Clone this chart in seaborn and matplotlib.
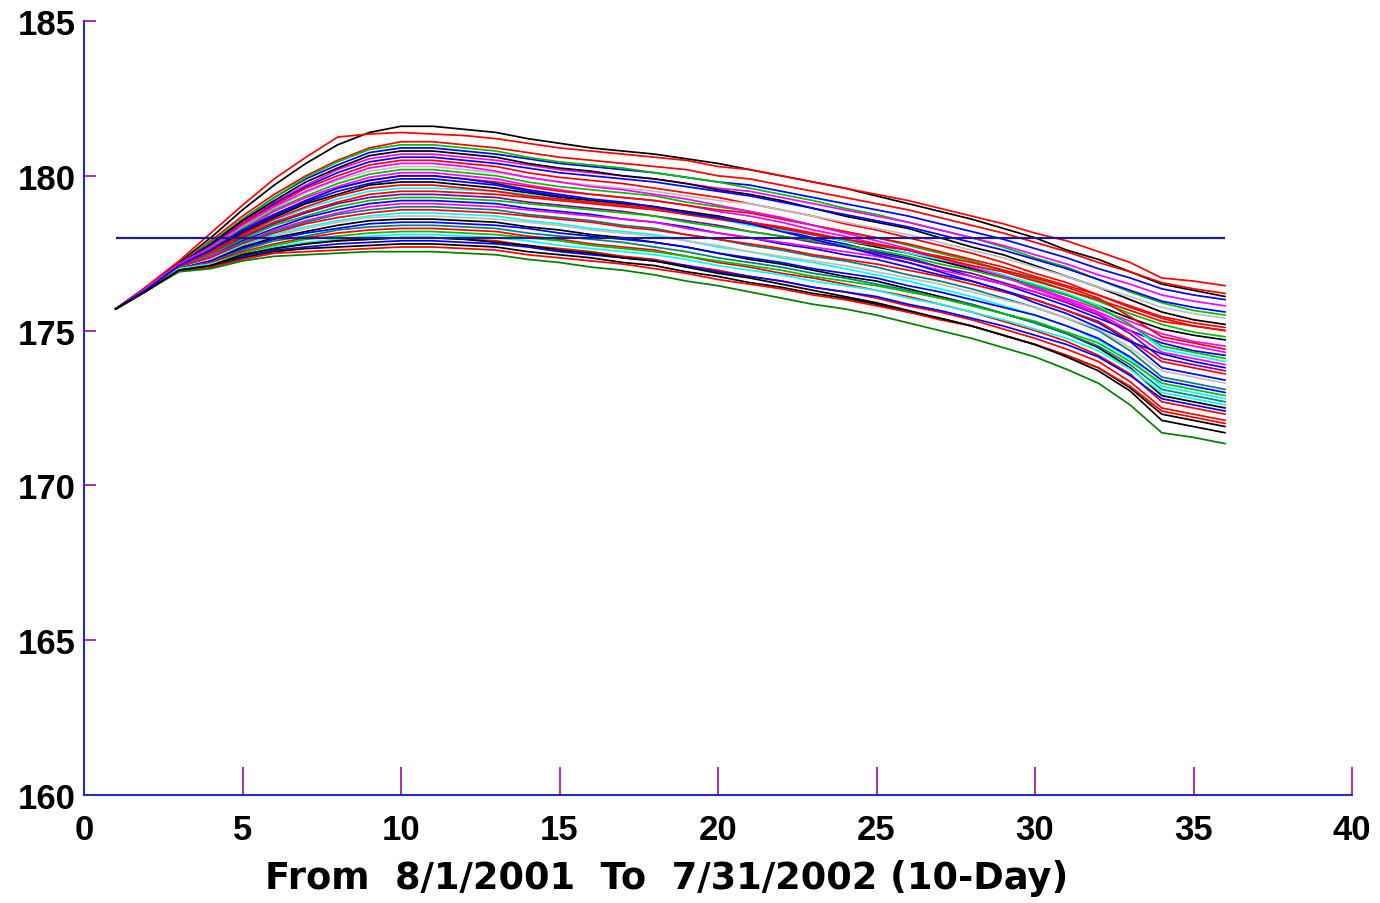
import numpy as np
import pandas as pd
import matplotlib
matplotlib.use("Agg")
import matplotlib.pyplot as plt
import seaborn as sns

# ---------------- data ----------------
periods = list(range(1, 37))          # 10-day periods, 8/1/2001 .. 7/31/2002
reference_level = 178
x_ticks = [0, 5, 10, 15, 20, 25, 30, 35, 40]
y_ticks = [160, 165, 170, 175, 180, 185]
x_label = "From  8/1/2001  To  7/31/2002 (10-Day)"

s01 = [175.7,176.4,177.2,178.0,178.9,179.7,180.4,181.0,181.4,181.6,181.6,181.5,181.4,181.2,181.05,180.9,180.8,180.7,180.55,180.4,180.2,180.0,179.8,179.6,179.35,179.1,178.85,178.6,178.3,178.0,177.6,177.3,176.9,176.5,176.3,176.1]
s02 = [175.7,176.45,177.25,178.15,179.05,179.9,180.6,181.25,181.35,181.4,181.35,181.3,181.2,181.05,180.9,180.8,180.7,180.6,180.5,180.3,180.2,180.0,179.8,179.6,179.4,179.2,178.95,178.7,178.45,178.15,177.9,177.55,177.2,176.7,176.6,176.45]
s03 = [175.7,176.4,177.15,177.9,178.7,179.4,180.0,180.5,180.9,181.1,181.1,181.0,180.9,180.75,180.6,180.5,180.4,180.3,180.2,180.0,179.9,179.7,179.5,179.3,179.1,178.9,178.65,178.4,178.15,177.85,177.55,177.2,176.9,176.55,176.35,176.2]
s04 = [175.7,176.4,177.15,177.8,178.6,179.3,179.9,180.35,180.75,180.9,180.9,180.8,180.7,180.55,180.4,180.3,180.2,180.1,179.95,179.8,179.7,179.5,179.3,179.1,178.9,178.7,178.45,178.2,177.95,177.65,177.35,177.0,176.7,176.35,176.15,176.0]
s05 = [175.7,176.4,177.15,177.85,178.6,179.3,179.95,180.45,180.85,181.0,181.0,180.9,180.8,180.6,180.45,180.35,180.25,180.1,179.95,179.8,179.6,179.4,179.2,178.95,178.75,178.5,178.25,178.0,177.7,177.35,177.05,176.65,176.25,175.9,175.65,175.5]
s06 = [175.7,176.4,177.15,177.75,178.5,179.15,179.7,180.2,180.55,180.7,180.7,180.6,180.5,180.35,180.2,180.1,180.0,179.9,179.75,179.6,179.5,179.3,179.1,178.9,178.7,178.5,178.25,178.0,177.75,177.45,177.15,176.8,176.5,176.15,175.95,175.8]
s07 = [175.7,176.4,177.15,177.8,178.55,179.2,179.8,180.25,180.65,180.8,180.8,180.7,180.6,180.4,180.25,180.15,180.0,179.9,179.75,179.55,179.4,179.2,178.95,178.7,178.5,178.3,178.0,177.7,177.45,177.1,176.75,176.4,176.0,175.6,175.35,175.2]
s08 = [175.7,176.4,177.15,177.75,178.45,179.1,179.65,180.1,180.45,180.6,180.6,180.5,180.4,180.25,180.1,180.0,179.9,179.8,179.65,179.5,179.35,179.15,178.95,178.75,178.55,178.35,178.1,177.85,177.6,177.3,177.0,176.65,176.3,175.95,175.75,175.6]
s09 = [175.7,176.4,177.15,177.7,178.45,179.05,179.6,180.0,180.35,180.5,180.5,180.4,180.3,180.1,179.95,179.85,179.75,179.6,179.45,179.3,179.1,178.9,178.7,178.45,178.25,178.0,177.75,177.5,177.2,176.85,176.55,176.15,175.75,175.4,175.15,175.0]
s10 = [175.7,176.35,177.1,177.65,178.35,178.95,179.45,179.85,180.15,180.3,180.3,180.2,180.1,179.95,179.8,179.7,179.6,179.5,179.35,179.2,179.1,178.9,178.7,178.5,178.3,178.1,177.85,177.6,177.35,177.05,176.75,176.4,176.1,175.75,175.55,175.4]
s11 = [175.7,176.35,177.1,177.65,178.3,178.9,179.35,179.75,180.05,180.2,180.2,180.1,180.0,179.8,179.65,179.55,179.45,179.35,179.15,179.0,178.85,178.65,178.4,178.2,178.0,177.75,177.5,177.25,176.95,176.65,176.3,175.95,175.55,175.2,174.95,174.8]
s12 = [175.7,176.35,177.1,177.6,178.25,178.85,179.3,179.65,179.95,180.1,180.1,180.0,179.9,179.7,179.55,179.4,179.3,179.2,179.05,178.85,178.7,178.5,178.25,178.05,177.8,177.6,177.3,177.0,176.75,176.4,176.05,175.7,175.3,174.9,174.65,174.5]
s13 = [175.7,176.35,177.1,177.6,178.25,178.75,179.2,179.6,179.85,180.0,180.0,179.9,179.8,179.65,179.5,179.4,179.3,179.2,179.05,178.9,178.8,178.6,178.4,178.2,178.0,177.8,177.55,177.3,177.05,176.75,176.45,176.15,175.8,175.45,175.25,175.1]
s14 = [175.7,176.35,177.1,177.6,178.2,178.7,179.15,179.5,179.75,179.9,179.9,179.8,179.7,179.5,179.35,179.2,179.1,179.0,178.8,178.65,178.5,178.25,178.0,177.8,177.55,177.35,177.05,176.75,176.5,176.15,175.8,175.4,175.0,174.6,174.35,174.2]
s15 = [175.7,176.35,177.1,177.55,178.15,178.65,179.1,179.4,179.7,179.8,179.8,179.7,179.6,179.45,179.3,179.2,179.1,179.0,178.85,178.7,178.5,178.3,178.1,177.9,177.7,177.5,177.25,177.0,176.75,176.45,176.15,175.8,175.4,175.05,174.85,174.7]
s16 = [175.7,176.35,177.05,177.5,178.05,178.55,178.95,179.25,179.5,179.6,179.6,179.55,179.5,179.4,179.25,179.15,179.05,178.95,178.75,178.6,178.4,178.25,178.1,177.9,177.75,177.5,177.3,177.1,176.8,176.5,176.2,175.8,175.2,174.4,174.2,174.0]
s17 = [175.7,176.35,177.05,177.5,178.05,178.5,178.85,179.15,179.4,179.5,179.5,179.45,179.4,179.3,179.2,179.1,179.0,178.9,178.75,178.6,178.45,178.3,178.1,177.95,177.8,177.6,177.4,177.2,176.95,176.7,176.4,176.05,175.45,174.8,174.6,174.4]
s18 = [175.7,176.35,177.05,177.45,178.0,178.45,178.8,179.1,179.3,179.4,179.4,179.35,179.3,179.15,179.05,178.95,178.85,178.7,178.55,178.4,178.2,178.05,177.85,177.7,177.5,177.3,177.05,176.85,176.55,176.25,175.9,175.5,174.9,174.1,173.9,173.7]
s19 = [175.7,176.35,177.05,177.45,177.95,178.4,178.7,179.0,179.2,179.3,179.3,179.25,179.2,179.1,179.0,178.9,178.8,178.7,178.5,178.35,178.2,178.05,177.9,177.75,177.6,177.4,177.15,176.95,176.7,176.45,176.15,175.75,175.2,174.5,174.3,174.1]
s20 = [175.7,176.35,177.05,177.4,177.9,178.3,178.65,178.9,179.1,179.2,179.2,179.15,179.1,178.95,178.85,178.75,178.6,178.5,178.35,178.15,178.0,177.8,177.65,177.45,177.3,177.05,176.8,176.6,176.3,176.0,175.65,175.25,174.65,173.8,173.6,173.4]
s21 = [175.7,176.35,177.05,177.4,177.85,178.25,178.55,178.8,179.0,179.1,179.1,179.05,179.0,178.9,178.8,178.7,178.6,178.5,178.3,178.15,178.0,177.85,177.7,177.55,177.4,177.2,176.95,176.75,176.5,176.25,175.95,175.55,175.0,174.3,174.1,173.9]
s22 = [175.7,176.35,177.05,177.35,177.85,178.2,178.5,178.75,178.9,179.0,179.0,178.95,178.9,178.75,178.65,178.55,178.4,178.3,178.1,177.95,177.75,177.6,177.4,177.25,177.05,176.8,176.6,176.35,176.05,175.75,175.4,175.0,174.35,173.5,173.3,173.1]
s23 = [175.7,176.35,177.05,177.35,177.8,178.15,178.45,178.65,178.8,178.9,178.9,178.85,178.8,178.7,178.6,178.5,178.35,178.25,178.1,177.95,177.8,177.65,177.45,177.3,177.15,176.95,176.75,176.5,176.25,176.0,175.65,175.3,174.7,174.0,173.8,173.6]
s24 = [175.7,176.3,177.0,177.3,177.75,178.1,178.35,178.55,178.7,178.8,178.8,178.75,178.7,178.55,178.45,178.3,178.2,178.1,177.9,177.7,177.55,177.35,177.2,177.0,176.8,176.6,176.35,176.1,175.8,175.5,175.15,174.7,174.1,173.2,173.0,172.8]
s25 = [175.7,176.3,177.0,177.3,177.7,178.05,178.3,178.5,178.65,178.7,178.7,178.65,178.6,178.5,178.4,178.25,178.15,178.05,177.9,177.75,177.55,177.4,177.25,177.1,176.9,176.7,176.5,176.25,176.0,175.75,175.4,175.05,174.45,173.7,173.5,173.3]
s26 = [175.7,176.3,177.0,177.25,177.7,178.0,178.2,178.4,178.55,178.6,178.6,178.55,178.5,178.35,178.25,178.1,178.0,177.85,177.7,177.5,177.3,177.15,176.95,176.75,176.6,176.35,176.1,175.85,175.55,175.25,174.9,174.45,173.8,172.9,172.7,172.5]
s27 = [175.7,176.3,177.0,177.25,177.65,177.95,178.15,178.3,178.45,178.5,178.5,178.45,178.4,178.3,178.15,178.05,177.95,177.85,177.7,177.5,177.35,177.2,177.0,176.85,176.7,176.45,176.25,176.0,175.75,175.5,175.15,174.75,174.15,173.4,173.2,173.0]
s28 = [175.7,176.3,177.0,177.2,177.6,177.9,178.05,178.25,178.35,178.4,178.4,178.35,178.3,178.15,178.05,177.95,177.85,177.7,177.55,177.35,177.2,177.05,176.85,176.7,176.5,176.3,176.05,175.85,175.55,175.25,174.9,174.5,173.9,173.1,172.9,172.7]
s29 = [175.7,176.3,177.0,177.2,177.55,177.8,178.0,178.15,178.25,178.3,178.3,178.25,178.2,178.05,177.95,177.8,177.7,177.6,177.4,177.2,177.05,176.85,176.7,176.5,176.3,176.1,175.85,175.6,175.3,175.0,174.65,174.2,173.6,172.7,172.5,172.3]
s30 = [175.7,176.3,177.0,177.15,177.5,177.75,177.95,178.05,178.15,178.2,178.2,178.15,178.1,178.0,177.9,177.75,177.65,177.55,177.4,177.25,177.1,176.95,176.75,176.6,176.45,176.25,176.05,175.8,175.55,175.3,174.95,174.6,174.0,173.3,173.1,172.9]
s31 = [175.7,176.3,177.0,177.15,177.45,177.7,177.85,177.95,178.05,178.1,178.1,178.05,178.0,177.9,177.75,177.65,177.55,177.45,177.3,177.1,176.95,176.8,176.6,176.45,176.3,176.05,175.85,175.6,175.35,175.05,174.75,174.35,173.75,173.0,172.8,172.6]
s32 = [175.7,176.3,176.95,177.1,177.45,177.65,177.8,177.9,177.95,178.0,178.0,177.95,177.9,177.75,177.65,177.55,177.4,177.3,177.1,176.95,176.75,176.6,176.4,176.25,176.05,175.8,175.6,175.35,175.05,174.75,174.4,174.0,173.35,172.5,172.3,172.1]
s33 = [175.7,176.3,176.95,177.1,177.4,177.6,177.7,177.8,177.85,177.9,177.9,177.85,177.8,177.7,177.55,177.45,177.35,177.25,177.1,176.9,176.75,176.6,176.4,176.25,176.1,175.85,175.65,175.4,175.15,174.85,174.55,174.15,173.55,172.8,172.6,172.4]
s34 = [175.7,176.3,176.95,177.05,177.35,177.55,177.65,177.7,177.75,177.8,177.8,177.75,177.7,177.55,177.45,177.35,177.2,177.1,176.9,176.75,176.55,176.4,176.2,176.05,175.85,175.6,175.4,175.15,174.85,174.55,174.2,173.8,173.15,172.3,172.1,171.9]
s35 = [175.7,176.3,176.95,177.05,177.3,177.5,177.55,177.6,177.65,177.7,177.7,177.65,177.6,177.45,177.35,177.25,177.15,177.0,176.85,176.65,176.5,176.35,176.15,176.0,175.8,175.6,175.35,175.15,174.85,174.55,174.2,173.8,173.2,172.4,172.2,172.0]
s36 = [175.7,176.3,176.9,177.0,177.25,177.4,177.45,177.5,177.55,177.55,177.55,177.5,177.45,177.3,177.2,177.05,176.95,176.8,176.6,176.45,176.25,176.05,175.85,175.7,175.5,175.25,175.0,174.75,174.45,174.15,173.75,173.3,172.6,171.7,171.55,171.35]
s37 = [175.7,176.4,177.15,177.7,178.4,179.0,179.5,179.9,180.25,180.4,180.4,180.3,180.15,179.95,179.8,179.65,179.55,179.4,179.25,179.05,178.85,178.65,178.4,178.15,177.9,177.65,177.35,177.05,176.75,176.35,176.0,175.6,175.15,174.7,174.5,174.3]
s38 = [175.7,176.35,177.1,177.55,178.1,178.6,179.0,179.35,179.6,179.7,179.7,179.6,179.5,179.35,179.25,179.15,179.05,178.95,178.8,178.65,178.5,178.35,178.15,177.95,177.75,177.6,177.35,177.1,176.9,176.6,176.3,176.0,175.65,175.3,175.15,175.0]
s39 = [175.7,176.35,177.1,177.6,178.25,178.75,179.2,179.6,179.85,180.0,180.0,179.9,179.75,179.55,179.4,179.25,179.15,179.0,178.8,178.65,178.45,178.2,177.95,177.7,177.45,177.2,176.9,176.6,176.3,175.9,175.55,175.1,174.65,174.25,174.0,173.8]
s40 = [175.7,176.3,176.95,177.1,177.45,177.65,177.8,177.9,177.95,178.0,178.0,177.95,177.85,177.75,177.6,177.5,177.35,177.25,177.05,176.85,176.7,176.5,176.3,176.1,175.9,175.65,175.4,175.15,174.85,174.55,174.15,173.7,173.05,172.1,171.9,171.7]

series_values = [s01, s02, s03, s04, s05, s06, s07, s08, s09, s10,
                 s11, s12, s13, s14, s15, s16, s17, s18, s19, s20,
                 s21, s22, s23, s24, s25, s26, s27, s28, s29, s30,
                 s31, s32, s33, s34, s35, s36, s37, s38, s39, s40]

series_colors = ["#000000", "#ff0000", "#ff0000", "#0000ff", "#00c000", "#ff00ff", "#000000", "#0000ff",
                 "#ff0000", "#bfbfbf", "#00c000", "#ff00ff", "#ff0000", "#0000ff", "#000000", "#00ffff",
                 "#ff0000", "#8000a0", "#00c000", "#0000ff", "#ff00ff", "#008080", "#ff0000", "#00ffff",
                 "#bfbfbf", "#000000", "#0000ff", "#008080", "#ff0000", "#00c000", "#00ffff", "#ff0000",
                 "#0000ff", "#000000", "#ff0000", "#008000", "#ff00ff", "#ff0000", "#0000ff", "#000000"]

# ---------------- build long table ----------------
names = [f"run{i+1:02d}" for i in range(len(series_values))]
df = pd.DataFrame({
    "period": np.tile(periods, len(series_values)),
    "value": np.concatenate(series_values),
    "series": np.repeat(names, len(periods)),
})
palette = dict(zip(names, series_colors))

# ---------------- plot ----------------
sns.set_theme(style="white")
plt.rcParams["font.family"] = ["Liberation Sans", "DejaVu Sans"]
plt.rcParams["font.weight"] = "bold"
plt.rcParams["text.color"] = "black"
plt.rcParams["xtick.color"] = "black"
plt.rcParams["ytick.color"] = "black"

fig = plt.figure(figsize=(13.8, 9.04), dpi=100)
ax = fig.add_axes([84 / 1380, 1 - 796 / 904, (1352 - 84) / 1380, (796 - 22) / 904])

sns.lineplot(data=df, x="period", y="value", hue="series", palette=palette,
             estimator=None, legend=False, linewidth=1.25, ax=ax)

ax.hlines(reference_level, periods[0], periods[-1], color="#1c1c8c", linewidth=1.6, zorder=5)

ax.set_xlim(x_ticks[0], x_ticks[-1])
ax.set_ylim(y_ticks[0], y_ticks[-1])
ax.set_xticks(x_ticks)
ax.set_yticks(y_ticks)
ax.set_xticklabels([str(t) for t in x_ticks], fontsize=25, fontweight="bold", color="black")
ax.set_yticklabels([str(t) for t in y_ticks], fontsize=25, fontweight="bold", color="black")
ax.set_xlabel(x_label, fontsize=26.5, fontweight="bold", color="black",
              family=["DejaVu Sans"])
ax.xaxis.set_label_coords((667 - 84) / 1268, -(879 - 796) / 774)
ax.xaxis.label.set_va("center")
ax.set_ylabel("")

for side in ["top", "right"]:
    ax.spines[side].set_visible(False)
for side in ["left", "bottom"]:
    ax.spines[side].set_color("#2a2ab8")
    ax.spines[side].set_linewidth(1.5)
    ax.spines[side].set_zorder(6)

ax.tick_params(axis="x", which="major", bottom=True, direction="in", length=20, width=1.3,
               color="#a020a0", labelcolor="black", pad=13)
ax.tick_params(axis="y", which="major", left=True, direction="in", length=8.5, width=1.3,
               color="#a020a0", labelcolor="black", pad=6)
ax.set_facecolor("white")
fig.patch.set_facecolor("white")

fig.savefig("out.png", dpi=100, facecolor="white")
